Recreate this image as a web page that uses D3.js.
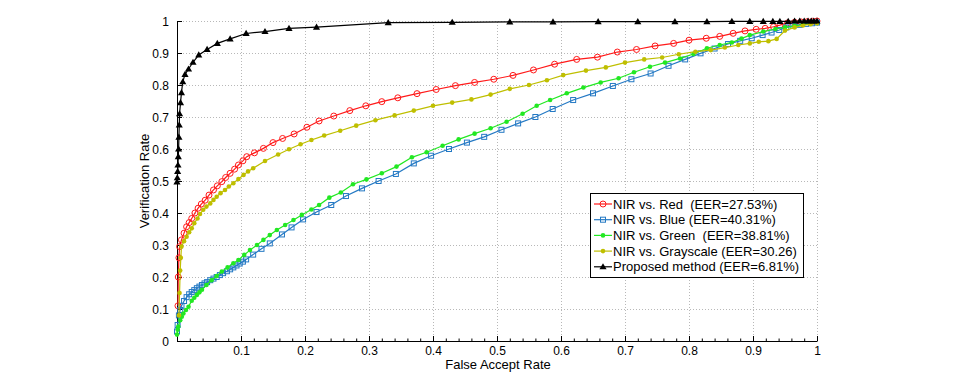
<!DOCTYPE html>
<html><head><meta charset="utf-8">
<script src="https://cdn.jsdelivr.net/npm/d3@7"></script>
<style>
body{margin:0;background:#fff;}
svg{display:block;font-family:"Liberation Sans",Arial,Helvetica,sans-serif;}
</style></head>
<body><svg id="c" width="968" height="378"></svg>
<script>
const xTicks=[0.1,0.2,0.3,0.4,0.5,0.6,0.7,0.8,0.9,1];
const yTicks=[0,0.1,0.2,0.3,0.4,0.5,0.6,0.7,0.8,0.9,1];
const xMinor=d3.range(0,51).map(i=>i/50);
const seriesNames=["NIR vs. Red  (EER=27.53%)","NIR vs. Blue (EER=40.31%)","NIR vs. Green  (EER=38.81%)","NIR vs. Grayscale (EER=30.26)","Proposed method (EER=6.81%)"];
const red=[[0.0015,0.11],[0.002,0.2],[0.003,0.26],[0.004,0.295],[0.007,0.316],[0.011,0.337],[0.015,0.357],[0.019,0.37],[0.023,0.383],[0.028,0.4],[0.033,0.415],[0.038,0.428],[0.044,0.44],[0.05,0.456],[0.057,0.472],[0.063,0.485],[0.07,0.498],[0.076,0.511],[0.083,0.524],[0.09,0.537],[0.096,0.55],[0.103,0.563],[0.109,0.576],[0.121,0.588],[0.135,0.602],[0.15,0.62],[0.165,0.633],[0.183,0.647],[0.203,0.668],[0.222,0.6875],[0.245,0.703],[0.27,0.72],[0.295,0.735],[0.32,0.748],[0.345,0.76],[0.375,0.773],[0.405,0.786],[0.435,0.798],[0.465,0.808],[0.495,0.818],[0.525,0.83],[0.557,0.847],[0.59,0.865],[0.6245,0.88],[0.657,0.887],[0.688,0.903],[0.718,0.911],[0.747,0.922],[0.776,0.93],[0.8,0.94],[0.827,0.946],[0.848,0.952],[0.869,0.9615],[0.8875,0.969],[0.905,0.974],[0.919,0.977],[0.932,0.982],[0.942,0.987],[0.954,0.994],[0.965,0.996],[0.975,0.997],[0.985,0.998],[0.993,0.999],[1,1]];
const blue=[[0,0.03],[0.001,0.05],[0.003,0.08],[0.005,0.097],[0.007,0.11],[0.011,0.125],[0.015,0.137],[0.019,0.146],[0.023,0.153],[0.027,0.159],[0.031,0.165],[0.035,0.17],[0.039,0.175],[0.043,0.18],[0.047,0.184],[0.052,0.19],[0.057,0.195],[0.062,0.2],[0.067,0.206],[0.072,0.212],[0.078,0.218],[0.083,0.224],[0.088,0.23],[0.093,0.236],[0.098,0.242],[0.103,0.248],[0.108,0.255],[0.119,0.27],[0.132,0.288],[0.145,0.305],[0.164,0.333],[0.179,0.355],[0.197,0.38],[0.218,0.403],[0.241,0.425],[0.264,0.453],[0.289,0.477],[0.315,0.5],[0.342,0.522],[0.37,0.555],[0.397,0.579],[0.425,0.6],[0.453,0.62],[0.48,0.638],[0.507,0.66],[0.533,0.68],[0.56,0.7],[0.587,0.725],[0.619,0.753],[0.65,0.774],[0.681,0.797],[0.71,0.818],[0.74,0.836],[0.768,0.86],[0.794,0.88],[0.818,0.899],[0.84,0.914],[0.861,0.928],[0.88,0.938],[0.898,0.946],[0.915,0.956],[0.929,0.964],[0.941,0.972],[0.952,0.98],[0.963,0.985],[0.973,0.988],[0.983,0.991],[0.992,0.993],[1,0.995]];
const green=[[0,0.02],[0.001,0.035],[0.002,0.045],[0.005,0.065],[0.0075,0.076],[0.01,0.086],[0.014,0.097],[0.018,0.107],[0.023,0.126],[0.027,0.135],[0.031,0.144],[0.035,0.152],[0.039,0.16],[0.046,0.175],[0.054,0.19],[0.062,0.203],[0.07,0.217],[0.079,0.23],[0.088,0.243],[0.096,0.253],[0.105,0.269],[0.114,0.284],[0.125,0.3],[0.135,0.316],[0.145,0.331],[0.156,0.347],[0.169,0.3625],[0.182,0.378],[0.195,0.394],[0.21,0.411],[0.222,0.425],[0.238,0.448],[0.256,0.464],[0.275,0.49],[0.296,0.505],[0.32,0.524],[0.343,0.545],[0.367,0.574],[0.39,0.59],[0.415,0.61],[0.44,0.63],[0.465,0.648],[0.49,0.665],[0.515,0.685],[0.54,0.71],[0.562,0.735],[0.583,0.753],[0.609,0.774],[0.635,0.792],[0.662,0.808],[0.69,0.821],[0.714,0.84],[0.739,0.857],[0.7625,0.87],[0.786,0.883],[0.807,0.897],[0.828,0.915],[0.848,0.925],[0.867,0.933],[0.882,0.945],[0.895,0.956],[0.916,0.967],[0.935,0.975],[0.95,0.98],[0.965,0.985],[0.978,0.989],[0.99,0.992],[1,0.994]];
const gray=[[0.003,0.08],[0.004,0.15],[0.005,0.22],[0.006,0.26],[0.007,0.295],[0.011,0.312],[0.015,0.326],[0.019,0.34],[0.023,0.352],[0.027,0.368],[0.032,0.383],[0.036,0.397],[0.041,0.41],[0.046,0.42],[0.052,0.43],[0.057,0.441],[0.062,0.451],[0.068,0.462],[0.075,0.472],[0.081,0.483],[0.088,0.493],[0.096,0.506],[0.104,0.519],[0.111,0.53],[0.119,0.54],[0.1375,0.5625],[0.158,0.583],[0.175,0.599],[0.193,0.615],[0.21,0.628],[0.23,0.642],[0.255,0.657],[0.28,0.673],[0.31,0.69],[0.34,0.705],[0.37,0.72],[0.4,0.735],[0.43,0.745],[0.46,0.755],[0.49,0.77],[0.52,0.788],[0.55,0.8],[0.578,0.815],[0.6036,0.831],[0.639,0.845],[0.67,0.855],[0.7,0.87],[0.73,0.88],[0.758,0.886],[0.784,0.896],[0.81,0.904],[0.834,0.909],[0.856,0.917],[0.877,0.925],[0.895,0.93],[0.909,0.935],[0.924,0.937],[0.937,0.944],[0.95,0.97],[0.965,0.98],[0.978,0.986],[0.99,0.99],[1,0.993]];
const proposed=[[0,0.497],[0.0005,0.51],[0.001,0.53],[0.0015,0.55],[0.002,0.576],[0.0025,0.6],[0.003,0.637],[0.0035,0.675],[0.004,0.71],[0.0055,0.745],[0.007,0.776],[0.009,0.81],[0.0125,0.833],[0.018,0.85],[0.025,0.871],[0.034,0.894],[0.047,0.911],[0.063,0.93],[0.083,0.944],[0.108,0.961],[0.1375,0.967],[0.175,0.977],[0.218,0.981],[0.33,0.995],[0.43,0.996],[0.52,0.997],[0.5875,0.997],[0.658,0.998],[0.72,0.998],[0.778,0.998],[0.828,0.998],[0.867,0.999],[0.895,0.999],[0.916,0.999],[0.931,0.999],[0.942,0.999],[0.955,0.999],[0.965,1],[0.973,1],[0.98,1],[0.986,1],[0.991,1],[0.995,1],[1,1]];

const svg=d3.select("#c");
const x=d3.scaleLinear().domain([0,1]).range([177,817]);
const y=d3.scaleLinear().domain([0,1]).range([341,21]);

// grid
const grid=svg.append("g").attr("stroke","#b8b8b8").attr("stroke-width",1).attr("stroke-dasharray","1,2");
grid.selectAll("line.v").data(xTicks).join("line").attr("x1",d=>Math.round(x(d))+0.5).attr("x2",d=>Math.round(x(d))+0.5).attr("y1",y(0)).attr("y2",y(1));
grid.selectAll("line.h").data(yTicks.filter(d=>d>0)).join("line").attr("y1",d=>Math.round(y(d))+0.5).attr("y2",d=>Math.round(y(d))+0.5).attr("x1",x(0)).attr("x2",x(1));

// axes
const fmt=d=>(d===0||d===1)?String(d):d.toFixed(1);
const gx=svg.append("g").attr("transform","translate(0,341)")
  .call(d3.axisBottom(x).tickValues(xTicks).tickSize(-5).tickSizeOuter(0).tickPadding(5).tickFormat(fmt));
const gxm=svg.append("g").attr("transform","translate(0,341)")
  .call(d3.axisBottom(x).tickValues(xMinor).tickSize(-2.5).tickSizeOuter(0).tickFormat(""));
gxm.select(".domain").remove();
const gy=svg.append("g").attr("transform","translate(177,0)")
  .call(d3.axisLeft(y).tickValues(yTicks).tickSize(-5).tickSizeOuter(0).tickPadding(8).tickFormat(fmt));
[gx,gxm,gy].forEach(g=>{g.selectAll("text").attr("font-size",12).attr("fill","#000").attr("font-family","Liberation Sans, Arial, sans-serif");g.selectAll("line,path").attr("stroke","#000");});
gy.selectAll("text").attr("dy","0.35em");

svg.append("text").attr("x",498).attr("y",369).attr("text-anchor","middle").attr("font-size",13).text("False Accept Rate");
svg.append("text").attr("transform","translate(149,181) rotate(-90)").attr("text-anchor","middle").attr("font-size",13).text("Verification Rate");

const line=d3.line().x(d=>x(d[0])).y(d=>y(d[1]));
const specs=[
 {data:red,color:"#ff1a1a",marker:"circle",fill:"none"},
 {data:blue,color:"#2479c4",marker:"square",fill:"none"},
 {data:green,color:"#22e822",marker:"dot",fill:"#22e822"},
 {data:gray,color:"#bfbf00",marker:"dot",fill:"#bfbf00"},
 {data:proposed,color:"#000",marker:"tri",fill:"#000"}
];
function drawMarker(g,m,color,fill,cx,cy){
  if(m==="circle") g.append("circle").attr("cx",cx).attr("cy",cy).attr("r",3).attr("fill",fill).attr("stroke",color).attr("stroke-width",1);
  else if(m==="square") g.append("rect").attr("x",cx-2.5).attr("y",cy-2.5).attr("width",5).attr("height",5).attr("fill",fill).attr("stroke",color).attr("stroke-width",1);
  else if(m==="dot") g.append("circle").attr("cx",cx).attr("cy",cy).attr("r",2.3).attr("fill",fill);
  else g.append("path").attr("d",d3.symbol(d3.symbolTriangle,22)()).attr("transform",`translate(${cx},${cy+0.5})`).attr("fill",fill);
}
specs.forEach(s=>{
  const g=svg.append("g");
  g.append("path").datum(s.data).attr("d",line).attr("fill","none").attr("stroke",s.color).attr("stroke-width",1.2);
  s.data.forEach(d=>drawMarker(g,s.marker,s.color,s.fill,x(d[0]),y(d[1])));
});

// legend
const lg=svg.append("g");
lg.append("rect").attr("x",590.5).attr("y",193.5).attr("width",213).attr("height",84).attr("fill","#fff").attr("stroke","#000").attr("stroke-width",1);
specs.forEach((s,i)=>{
  const cy=204+i*15.7;
  lg.append("line").attr("x1",594).attr("x2",612).attr("y1",cy).attr("y2",cy).attr("stroke",s.color).attr("stroke-width",1.2);
  drawMarker(lg,s.marker,s.color,s.fill,603,cy);
  lg.append("text").attr("x",613).attr("y",cy).attr("dy","0.35em").attr("font-size",13).style("white-space","pre").text(seriesNames[i]);
});
</script></body></html>
